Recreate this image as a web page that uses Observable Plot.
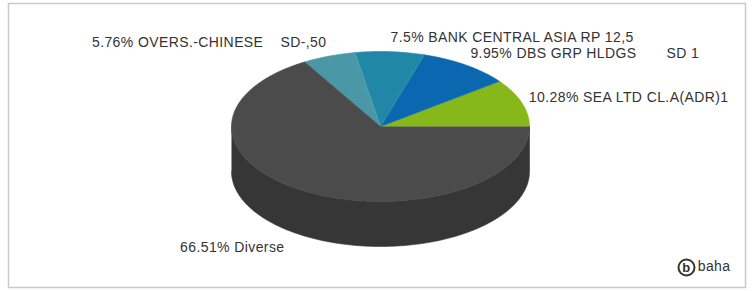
<!DOCTYPE html>
<html><head><meta charset="utf-8">
<script src="https://cdn.jsdelivr.net/npm/d3@7"></script>
<script src="https://cdn.jsdelivr.net/npm/@observablehq/plot@0.6"></script>
<style>
html,body{margin:0;padding:0;background:#fff;}
#chart svg text{white-space:pre;letter-spacing:0.4px;}
</style></head><body><div id="chart"></div>
<script>
const names = ["SEA LTD CL.A(ADR)1", "DBS GRP HLDGS       SD 1", "BANK CENTRAL ASIA RP 12,5", "OVERS.-CHINESE    SD-,50", "Diverse"];
const shares = [10.28, 9.95, 7.5, 5.76, 66.51];
const topColors = ["#86b81a", "#0a67b0", "#2187a7", "#4a97a7", "#4b4b4b"];
const sideColors = ["#5f8412", "#064a80", "#176079", "#356c78", "#363636"];

const DEPTH = 0.6;
const TAU = Math.PI * 2;
const total = d3.sum(shares);
let acc = 0;
const slices = names.map((name, i) => {
  const a0 = acc / total * TAU; acc += shares[i];
  const a1 = acc / total * TAU;
  return {i, name, share: shares[i], a0, a1, mid: (a0 + a1) / 2};
});
function arc(a0, a1) {
  const n = Math.max(2, Math.ceil((a1 - a0) / 0.015));
  return d3.range(n + 1).map(k => a0 + (a1 - a0) * k / n);
}
const tops = slices.flatMap(s => [
  {slice: s.i, x: 0, y: 0, fill: topColors[s.i]},
  ...arc(s.a0, s.a1).map(a => ({slice: s.i, x: Math.cos(a), y: Math.sin(a), fill: topColors[s.i]}))
]);
const sides = slices.flatMap(s => {
  const lo = Math.max(s.a0, Math.PI), hi = Math.min(s.a1, TAU);
  if (hi <= lo) return [];
  const angs = arc(lo, hi);
  return [
    ...angs.map(a => ({slice: s.i, x: Math.cos(a), y: Math.sin(a), fill: sideColors[s.i]})),
    ...angs.slice().reverse().map(a => ({slice: s.i, x: Math.cos(a), y: Math.sin(a) - DEPTH, fill: sideColors[s.i]}))
  ];
});
const labels = slices.map(s => {
  const c = Math.cos(s.mid), sn = Math.sin(s.mid);
  const lower = sn < 0;
  const R = lower ? 1.3 : 1.05;
  const y = lower ? 1.1 * sn - DEPTH - (4 + 6 * Math.abs(sn)) / 75 : 1.1 * sn - (4 - 6 * Math.abs(sn)) / 75;
  return {x: R * c, y, right: c >= 0, text: `${s.share}% ${s.name}`};
});

const chart = Plot.plot({
  width: 754, height: 291,
  marginLeft: 8, marginRight: 9, marginTop: 3, marginBottom: 4,
  x: {domain: [-1, 1], range: [231, 529], axis: null},
  y: {domain: [-1, 1], range: [201, 51], axis: null},
  color: {type: "identity"},
  style: {fontFamily: "'Liberation Sans', Arial, sans-serif", fontSize: "14px", color: "#333", background: "#fff"},
  marks: [
    Plot.frame({stroke: "#c9c9c9", strokeWidth: 1.5}),
    Plot.line(sides, {x: "x", y: "y", z: "slice", fill: "fill", stroke: "fill", strokeWidth: 0.6}),
    Plot.line(tops, {x: "x", y: "y", z: "slice", fill: "fill", stroke: "fill", strokeWidth: 0.6}),
    Plot.text(labels.filter(d => d.right), {x: "x", y: "y", text: "text", textAnchor: "start", lineAnchor: "bottom", fill: "#333"}),
    Plot.text(labels.filter(d => !d.right), {x: "x", y: "y", text: "text", textAnchor: "end", lineAnchor: "bottom", fill: "#333"}),
    Plot.dot([0], {frameAnchor: "bottom-right", dx: -59, dy: -20, r: 8, stroke: "#333", strokeWidth: 2, fill: "none"}),
    Plot.text(["b"], {frameAnchor: "bottom-right", dx: -59, dy: -20, text: d => d, fontWeight: "bold", fontSize: 13, fill: "#333", textAnchor: "middle", lineAnchor: "middle"}),
    Plot.text(["baha"], {frameAnchor: "bottom-right", dx: -15, dy: -17, text: d => d, fontSize: 14, fill: "#333", textAnchor: "end", lineAnchor: "bottom"})
  ]
});
document.getElementById("chart").appendChild(chart);
</script></body></html>
